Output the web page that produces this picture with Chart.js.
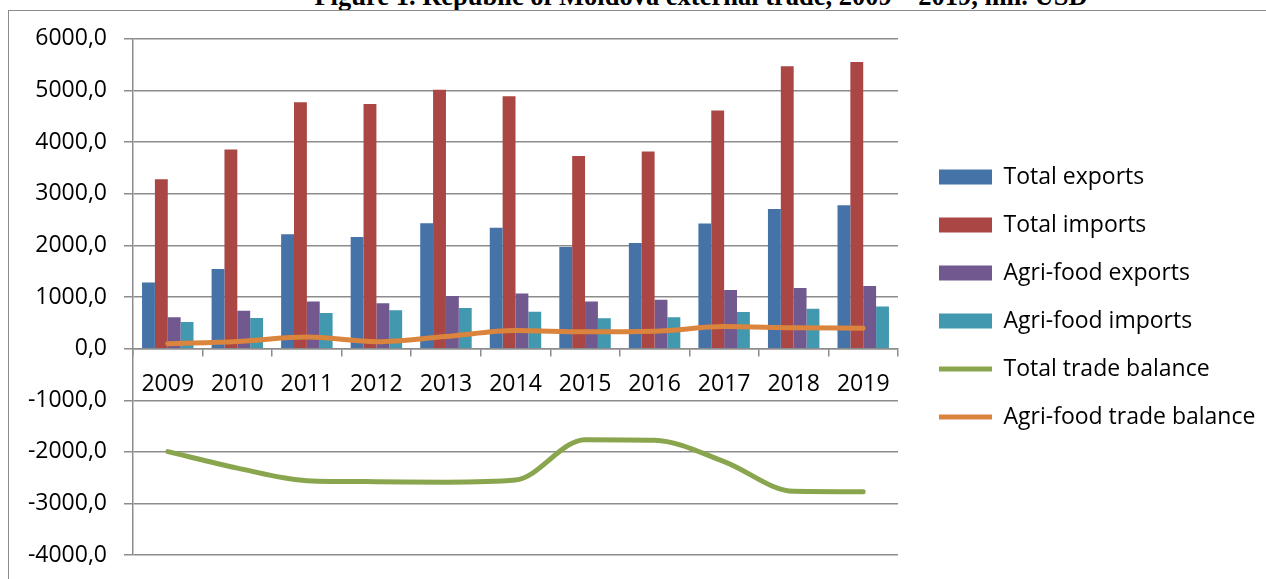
<!DOCTYPE html>
<html>
<head>
<meta charset="utf-8">
<script src="https://cdn.jsdelivr.net/npm/chart.js@4"></script>
<style>
  body { margin: 0; background: #fff; overflow: hidden; }
  #title {
    position: absolute; left: 0; width: 1402px; top: -19px;
    text-align: center; white-space: nowrap;
    font: bold 26.5px "Liberation Serif", "Times New Roman", serif; color: #000;
  }
  #frame {
    position: absolute; left: 8px; top: 10px; width: 1300px; height: 600px;
    border-left: 1.5px solid #8c8c8c; border-top: 1.5px solid #8c8c8c;
  }
  #wrap { position: absolute; left: 9px; top: 8px; width: 1257px; height: 578px; }
</style>
</head>
<body>
<div id="title">Figure 1. Republic of Moldova external trade, 2009 – 2019, mil. USD</div>
<div id="frame"></div>
<div id="wrap"><canvas id="chart"></canvas></div>
<script>
// Data (mil. USD)
const years = ['2009', '2010', '2011', '2012', '2013', '2014', '2015', '2016', '2017', '2018', '2019'];
const totalExports = [1283, 1542, 2217, 2162, 2428, 2340, 1967, 2045, 2425, 2706, 2779];
const totalImports = [3278, 3855, 4773, 4738, 5013, 4886, 3729, 3818, 4612, 5469, 5550];
const agriExports = [610, 735, 915, 880, 1020, 1066, 915, 945, 1135, 1176, 1212];
const agriImports = [515, 595, 690, 745, 785, 715, 588, 608, 708, 772, 815];
const totalBalance = [-1995, -2313, -2556, -2576, -2585, -2546, -1762, -1773, -2187, -2763, -2771];
const agriBalance = [95, 140, 225, 135, 235, 351, 327, 337, 427, 404, 397];

const GRID = '#8c8c8c';
const FONT = 'Open Sans';
const FONT_SIZE = 23;
const LEGEND_WIDTH = 368;   // plot ends at x=898 on the page
const LEGEND_SHIFT_X = 16;  // extra gap before the legend swatches
const LEGEND_SHIFT_Y = 0;

function fmt(v) {
    return v.toFixed(1).replace('.', ',');
}

// Chart.js caps a side legend at a quarter of the width, so widen it by hand
const wideLegend = {
    id: 'wideLegend',
    afterInit(chart) {
        const legend = chart.legend;
        const origFit = legend.fit.bind(legend);
        legend.fit = function() {
            origFit();
            this.width = LEGEND_WIDTH;
        };
        const origDraw = legend.draw.bind(legend);
        legend.draw = function(area) {
            chart.ctx.save();
            chart.ctx.translate(LEGEND_SHIFT_X, LEGEND_SHIFT_Y);
            origDraw(area);
            chart.ctx.restore();
        };
    }
};

const ctx = document.getElementById('chart').getContext('2d');

new Chart(ctx, {
    type: 'bar',
    data: {
        labels: years,
        datasets: [
            { label: 'Total exports', data: totalExports, backgroundColor: '#4572A7', order: 1, pointStyle: 'rect' },
            { label: 'Total imports', data: totalImports, backgroundColor: '#AA4643', order: 1, pointStyle: 'rect' },
            { label: 'Agri-food exports', data: agriExports, backgroundColor: '#71588F', order: 1, pointStyle: 'rect' },
            { label: 'Agri-food imports', data: agriImports, backgroundColor: '#4198AF', order: 1, pointStyle: 'rect' },
            {
                type: 'line', label: 'Total trade balance', data: totalBalance,
                borderColor: '#89A54E', backgroundColor: '#89A54E', borderWidth: 5,
                pointRadius: 0, cubicInterpolationMode: 'monotone', order: 0, pointStyle: 'line',
                borderCapStyle: 'round', borderJoinStyle: 'round'
            },
            {
                type: 'line', label: 'Agri-food trade balance', data: agriBalance,
                borderColor: '#DB843D', backgroundColor: '#DB843D', borderWidth: 5,
                pointRadius: 0, cubicInterpolationMode: 'monotone', order: 0, pointStyle: 'line',
                borderCapStyle: 'round', borderJoinStyle: 'round'
            }
        ]
    },
    options: {
        responsive: true,
        maintainAspectRatio: false,
        animation: false,
        layout: {
            padding: 0
        },
        datasets: {
            bar: { categoryPercentage: 0.74, barPercentage: 1.0, borderWidth: 0 }
        },
        plugins: {
            legend: {
                position: 'right',
                align: 'center',
                labels: {
                    usePointStyle: true,
                    pointStyleWidth: 53,
                    boxHeight: 15,
                    padding: 25,
                    color: '#000',
                    font: { family: FONT, size: FONT_SIZE },
                    sort: (a, b) => a.datasetIndex - b.datasetIndex
                }
            },
            tooltip: { enabled: false }
        },
        scales: {
            x: {
                position: { y: 0 },
                grid: {
                    offset: true,
                    drawOnChartArea: false,
                    drawTicks: true,
                    tickLength: 7,
                    color: GRID,
                    lineWidth: 1.5
                },
                border: { display: true, color: GRID, width: 1.5 },
                ticks: {
                    color: '#000',
                    padding: 15,
                    maxRotation: 0,
                    font: { family: FONT, size: FONT_SIZE }
                }
            },
            y: {
                min: -4000,
                max: 6000,
                afterFit: (scale) => { scale.width = 124; },
                grid: {
                    color: GRID,
                    lineWidth: 1.5,
                    tickLength: 9
                },
                border: { display: true, color: GRID, width: 1.5 },
                ticks: {
                    stepSize: 1000,
                    padding: 17,
                    color: '#000',
                    font: { family: FONT, size: FONT_SIZE },
                    callback: (value) => fmt(value)
                }
            }
        }
    },
    plugins: [wideLegend]
});
</script>
</body>
</html>
